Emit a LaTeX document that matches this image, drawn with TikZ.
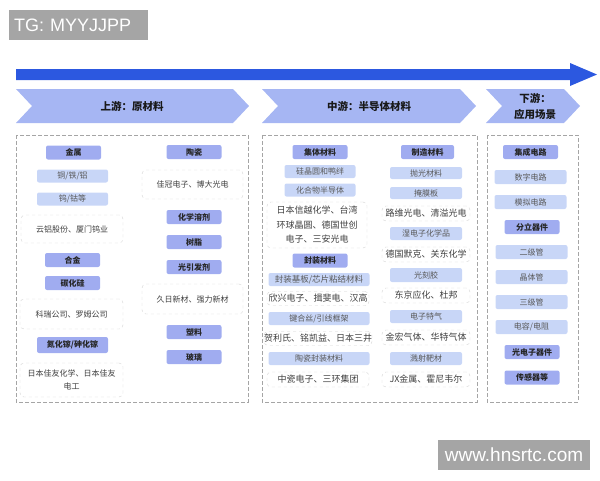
\documentclass[tikz,border=0pt]{standalone}
\usepackage{fontspec}
\setmainfont{Noto Sans CJK SC}
\newfontfamily\wmfont{Liberation Sans}
\usetikzlibrary{positioning}
\definecolor{arrowblue}{RGB}{44,88,224}
\definecolor{chevblue}{RGB}{166,182,243}
\definecolor{hdrblue}{RGB}{160,172,240}
\definecolor{itmblue}{RGB}{200,214,247}
\definecolor{cogray}{RGB}{212,212,212}
\definecolor{boxgray}{RGB}{165,165,165}
\definecolor{wmgray}{RGB}{165,165,165}
\tikzset{
    hdr/.style={fill=hdrblue, rounded corners=2pt, minimum width=55pt, minimum height=14pt,
        inner sep=0pt, font=\fontsize{8}{9}\selectfont\bfseries, text=black!85},
    itm/.style={fill=itmblue, rounded corners=2pt, minimum width=71pt, minimum height=13pt,
        inner sep=0pt, font=\fontsize{8}{9}\selectfont, text=black!65},
    co/.style={draw=cogray, dashed, rounded corners=4pt, fill=white, inner sep=0pt,
        align=center, font=\fontsize{8}{13}\selectfont, text=black!75},
    col/.style={draw=boxgray, dash pattern=on 4pt off 2pt},
    chev/.style={fill=chevblue},
    stage/.style={font=\fontsize{10.5}{16}\selectfont\bfseries, align=center, text=black!90},
    wm/.style={fill=wmgray, text=white, inner sep=0pt, minimum height=30pt}
}
\begin{document}
\begin{tikzpicture}[x=1pt, y=-1pt]
    \useasboundingbox (0,0) rectangle (600,480);
    % watermarks
    \node[wm, anchor=north west, text width=129pt, inner xsep=5pt, align=left,
        font=\wmfont\fontsize{18}{18}\selectfont] (tg) at (9,10) {TG: MYYJJPP};
    \node[wm, minimum width=152pt, font=\wmfont\fontsize{19}{19}\selectfont] (site) at (514,455) {www.hnsrtc.com};
    % flow arrow
    \fill[arrowblue] (16,69) -- (570,69) -- (570,63) -- (597,74.5) -- (570,86) -- (570,80) -- (16,80) -- cycle;
    % stages
    \fill[chev] (16,89) -- (233,89) -- (249,106) -- (233,123) -- (16,123) -- (32,106) -- cycle;
    \fill[chev] (262,89) -- (460,89) -- (476,106) -- (460,123) -- (262,123) -- (278,106) -- cycle;
    \fill[chev] (486,89) -- (564,89) -- (580,106) -- (564,123) -- (486,123) -- (502,106) -- cycle;
    \node[stage] (up) at (132,106) {上游：原材料};
    \node[stage] (mid) at (369,106) {中游：半导体材料};
    \node[stage] (down) at (535,106) {下游：\\应用场景};
    % columns
    \draw[col] (16,135) rectangle (248,402);
    \draw[col] (262,135) rectangle (477,402);
    \draw[col] (487,135) rectangle (578,402);
    % upstream, left
    \node[hdr] (metal) at (73.5,152.5) {金属};
    \node[itm] (cuFeAl) at (72.5,176) {铜/铁/铝};
    \node[itm] (wCo) at (72.5,199) {钨/钴等};
    \node[co, minimum width=102pt, minimum height=28pt] (coMetal) at (72,229) {云铝股份、厦门钨业};
    \node[hdr] (alloy) at (72.5,260) {合金};
    \node[hdr] (sic) at (72.5,283) {碳化硅};
    \node[co, minimum width=103pt, minimum height=30pt] (coSic) at (71.5,314) {科瑞公司、罗姆公司};
    \node[hdr, minimum width=71pt, minimum height=16pt] (gan) at (72.5,345) {氮化镓/砷化镓};
    \node[co, minimum width=103pt, minimum height=34pt] (coGan) at (71.5,380) {日本佳友化学、日本佳友\\电工};
    % upstream, right
    \node[hdr] (ceram) at (194,152) {陶瓷};
    \node[co, minimum width=101pt, minimum height=29pt] (coCeram) at (192.5,184.5) {佳冠电子、博大光电};
    \node[hdr] (solvent) at (194,217) {化学溶剂};
    \node[hdr] (resin) at (194,242) {树脂};
    \node[hdr] (photoinit) at (194,267) {光引发剂};
    \node[co, minimum width=101pt, minimum height=30pt] (coPhoto) at (192.5,299) {久日新材、强力新材};
    \node[hdr] (plastic) at (194,332) {塑料};
    \node[hdr] (glass) at (194,357) {玻璃};
    % midstream, left
    \node[hdr] (matBase) at (320,152) {集体材料};
    \node[itm] (siWafer) at (320,171.5) {硅晶圆和鸭绊};
    \node[itm] (compound) at (320,190) {化合物半导体};
    \node[co, minimum width=100pt, minimum height=46pt, font=\fontsize{9}{14.5}\selectfont] (coWafer) at (317,225)
        {日本信越化学、台湾\\环球晶圆、德国世创\\电子、三安光电};
    \node[hdr] (pkgMat) at (320,260.5) {封装材料};
    \node[itm, minimum width=101pt, font=\fontsize{8.5}{9}\selectfont] (substrate) at (319,279.5) {封装基板/芯片粘结材料};
    \node[co, minimum width=102pt, minimum height=14pt, font=\fontsize{9}{10}\selectfont] (coSub) at (318,298.5) {欣兴电子、揖斐电、汉高};
    \node[itm, minimum width=101pt] (bondWire) at (319,318.5) {键合丝/引线框架};
    \node[co, minimum width=102pt, minimum height=14pt, font=\fontsize{9}{10}\selectfont] (coWire) at (318,338.5) {贺利氏、铭凯益、日本三井};
    \node[itm, minimum width=101pt] (ceramPkg) at (319,358.5) {陶瓷封装材料};
    \node[co, minimum width=102pt, minimum height=15pt, font=\fontsize{9}{10}\selectfont] (coCeramPkg) at (318,379.5) {中瓷电子、三环集团};
    % midstream, right
    \node[hdr, minimum width=53pt] (fabMat) at (427.5,152) {制造材料};
    \node[itm, minimum width=72pt, minimum height=12pt] (polish) at (426,173) {抛光材料};
    \node[itm, minimum width=72pt, minimum height=12pt] (mask) at (426,193) {掩膜板};
    \node[co, minimum width=88pt, minimum height=15pt, font=\fontsize{9}{10}\selectfont] (coMask) at (426,213.5) {路维光电、清溢光电};
    \node[itm, minimum width=72pt] (wetChem) at (426,233.5) {湿电子化学品};
    \node[co, minimum width=88pt, minimum height=15pt, font=\fontsize{9}{10}\selectfont] (coWet) at (426,254.5) {德国默克、关东化学};
    \node[itm, minimum width=72pt, minimum height=14pt] (resist) at (426,275) {光刻胶};
    \node[co, minimum width=88pt, minimum height=15pt, font=\fontsize{9}{10}\selectfont] (coResist) at (426,295.5) {东京应化、杜邦};
    \node[itm, minimum width=72pt] (gas) at (426,316.5) {电子特气};
    \node[co, minimum width=88pt, minimum height=15pt, font=\fontsize{9}{10}\selectfont] (coGas) at (426,337.5) {金宏气体、华特气体};
    \node[itm, minimum width=72pt] (target) at (426,358.5) {溅射靶材};
    \node[co, minimum width=88pt, minimum height=15pt, font=\fontsize{9}{10}\selectfont] (coTarget) at (426,379.5) {JX金属、霍尼韦尔};
    % downstream
    \node[hdr] (ic) at (530.5,152) {集成电路};
    \node[itm, minimum width=72pt, minimum height=14pt] (digital) at (530.5,177) {数字电路};
    \node[itm, minimum width=72pt, minimum height=14pt] (analog) at (530.5,202) {模拟电路};
    \node[hdr] (discrete) at (532,227) {分立器件};
    \node[itm, minimum width=72pt, minimum height=14pt] (diode) at (531.5,252) {二级管};
    \node[itm, minimum width=72pt, minimum height=14pt] (transistor) at (531.5,277) {晶体管};
    \node[itm, minimum width=72pt, minimum height=14pt] (triode) at (531.5,302) {三级管};
    \node[itm, minimum width=72pt, minimum height=14pt] (passive) at (531.5,327) {电容/电阻};
    \node[hdr] (opto) at (532,352) {光电子器件};
    \node[hdr] (sensor) at (532,377.5) {传感器等};
\end{tikzpicture}
\end{document}
